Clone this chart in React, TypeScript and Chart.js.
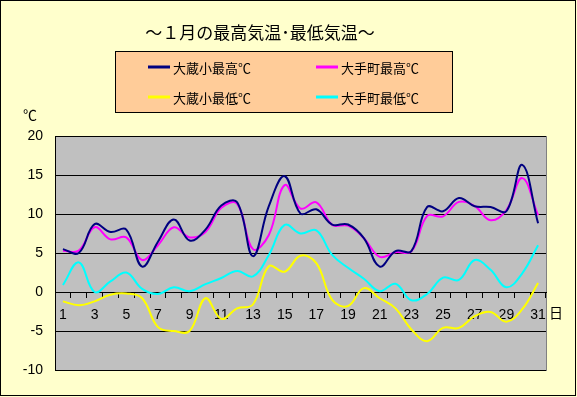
import React, { useEffect, useRef } from 'react';
import { Chart, registerables } from 'chart.js';

Chart.register(...registerables);

const days = ['1','2','3','4','5','6','7','8','9','10','11','12','13','14','15','16','17','18','19','20','21','22','23','24','25','26','27','28','29','30','31'];

const ookuraHigh = [5.5, 5.0, 8.7, 7.7, 8.0, 3.25, 6.45, 9.3, 6.6, 8.0, 11.1, 11.5, 4.6, 11.0, 14.85, 10.05, 10.6, 8.65, 8.65, 6.9, 3.25, 5.25, 5.25, 10.9, 10.35, 12.05, 11.0, 10.9, 10.35, 16.3, 8.8];
const otemachiHigh = [5.3, 5.3, 8.3, 6.75, 7.0, 4.1, 6.0, 8.3, 7.0, 7.7, 10.8, 11.3, 5.5, 7.3, 13.7, 10.7, 11.5, 8.6, 8.5, 6.9, 4.5, 5.1, 5.2, 9.75, 9.7, 11.55, 11.0, 9.2, 10.5, 14.6, 9.85];
const ookuraLow = [-1.2, -1.7, -1.2, -0.35, -0.2, -0.8, -4.5, -5.0, -5.0, -0.8, -3.45, -2.1, -1.6, 3.3, 2.6, 4.65, 3.7, -1.0, -1.8, 0.5, -0.8, -2.1, -4.8, -6.3, -4.6, -4.6, -3.1, -2.55, -3.8, -2.2, 1.15];
const otemachiLow = [0.9, 3.8, 0.0, 1.35, 2.5, 0.4, -0.25, 0.6, 0.1, 1.0, 1.8, 2.7, 2.0, 4.75, 8.6, 7.5, 7.9, 4.75, 3.1, 1.7, 0.1, 1.05, -1.05, -0.25, 1.85, 1.55, 4.1, 2.85, 0.6, 2.4, 6.0];

const seriesNames = ['大蔵小最高℃', '大手町最高℃', '大蔵小最低℃', '大手町最低℃'];
const seriesColors = ['#000080', '#FF00FF', '#FFFF00', '#00FFFF'];
const titleText = '～１月の最高気温･最低気温～';
const yUnit = '℃';
const xUnit = '日';

const FONT = '"Liberation Sans", "Noto Sans CJK JP", sans-serif';
const CJK = '"Noto Sans CJK JP", sans-serif';

const decorPlugin = {
  id: 'decor',
  beforeDraw(chart: any) {
    const { ctx, width, height, chartArea } = chart;
    ctx.save();
    ctx.fillStyle = '#FFFFCC';
    ctx.fillRect(0, 0, width, height);
    ctx.strokeStyle = '#000';
    ctx.lineWidth = 1;
    ctx.strokeRect(0.5, 0.5, width - 2, height - 2);
    ctx.fillStyle = '#C0C0C0';
    ctx.fillRect(chartArea.left, chartArea.top, chartArea.right - chartArea.left, chartArea.bottom - chartArea.top);
    ctx.strokeStyle = '#808080';
    ctx.strokeRect(chartArea.left + 0.5, chartArea.top + 0.5, chartArea.right - chartArea.left, chartArea.bottom - chartArea.top);
    ctx.restore();
  },
  afterDraw(chart: any) {
    const { ctx, chartArea } = chart;
    ctx.save();
    // title
    ctx.fillStyle = '#000';
    ctx.font = '17px ' + CJK;
    ctx.textAlign = 'center';
    ctx.textBaseline = 'middle';
    ctx.fillText(titleText, 260, 33);
    // legend box
    const bx = 115, by = 51, bw = 337, bh = 61;
    ctx.fillStyle = '#FFCC99';
    ctx.fillRect(bx, by, bw, bh);
    ctx.strokeStyle = '#000';
    ctx.lineWidth = 1;
    ctx.strokeRect(bx + 0.5, by + 0.5, bw, bh);
    ctx.font = '13px ' + CJK;
    ctx.textAlign = 'left';
    chart.data.datasets.forEach((ds: any, i: number) => {
      const col = i % 2;
      const row = Math.floor(i / 2);
      const lx = col === 0 ? 148 : 316;
      const ly = row === 0 ? 67 : 97;
      ctx.strokeStyle = ds.borderColor;
      ctx.lineWidth = 3;
      ctx.beginPath();
      ctx.moveTo(lx, ly);
      ctx.lineTo(lx + 22, ly);
      ctx.stroke();
      ctx.fillStyle = '#000';
      ctx.fillText(ds.label, lx + 25, ly + 1);
    });
    // units
    ctx.font = '14px ' + CJK;
    ctx.textAlign = 'center';
    ctx.fillText(yUnit, 30, 115);
    const y0 = chart.scales.y.getPixelForValue(0);
    ctx.fillText(xUnit, chartArea.right + 10, y0 + 21);
    ctx.restore();
  },
};

export default function App() {
  const ref = useRef<HTMLCanvasElement>(null);
  useEffect(() => {
    const datasets = [ookuraHigh, otemachiHigh, ookuraLow, otemachiLow].map((d, i) => ({
      label: seriesNames[i],
      data: d,
      borderColor: seriesColors[i],
      backgroundColor: seriesColors[i],
      borderWidth: 2,
      pointRadius: 0,
      tension: 0.4,
      fill: false,
    }));
    const chart = new Chart(ref.current!, {
      type: 'line',
      data: { labels: days, datasets },
      options: {
        responsive: false,
        animation: false,
        devicePixelRatio: 1,
        layout: { padding: { left: 0, top: 136, right: 31, bottom: 27 } },
        plugins: { legend: { display: false }, title: { display: false }, tooltip: { enabled: false } },
        scales: {
          x: {
            type: 'category',
            offset: true,
            position: { y: 0 } as any,
            grid: { display: true, drawOnChartArea: false, drawTicks: true, tickLength: 5, color: '#000', offset: true },
            border: { display: true, color: '#000', width: 1 },
            ticks: {
              autoSkip: false,
              maxRotation: 0,
              minRotation: 0,
              padding: 10,
              color: '#000',
              font: { family: FONT, size: 14 },
              callback: (_v: any, i: number) => (i % 2 === 0 ? days[i] : ''),
            },
          },
          y: {
            min: -10,
            max: 20,
            position: 'left',
            afterFit: (scale: any) => { scale.width = 55; },
            grid: { color: '#000', drawTicks: false, lineWidth: 1 },
            border: { display: true, color: '#000', width: 1 },
            ticks: { stepSize: 5, padding: 12, color: '#000', font: { family: FONT, size: 14 } },
          },
        },
      },
      plugins: [decorPlugin],
    });
    return () => chart.destroy();
  }, []);
  return (
    <div style={{ position: 'fixed', left: 0, top: 0, width: 577, height: 397 }}>
      <canvas ref={ref} width={577} height={397} style={{ display: 'block' }} />
    </div>
  );
}
